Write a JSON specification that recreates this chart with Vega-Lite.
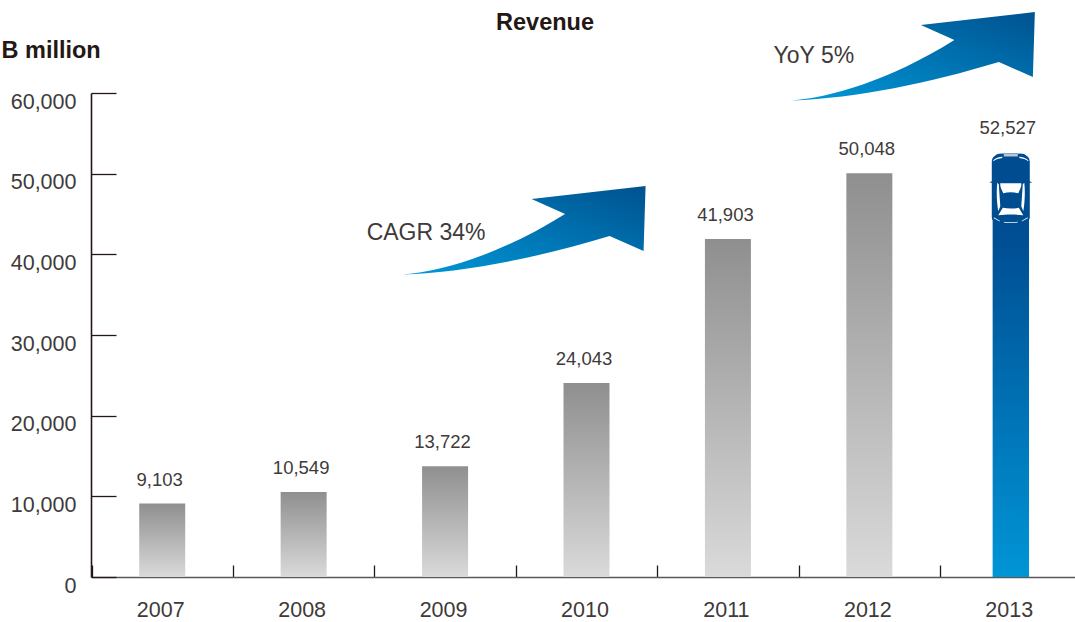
{
"$schema":"https://vega.github.io/schema/vega-lite/v6.json",
"autosize":"none",
"width":984,"height":484,
"padding":{"left":91,"top":93,"right":0,"bottom":45},
"background":"white",
"title":{"text":"Revenue","anchor":"start","frame":"group","align":"center","dx":454,"dy":41,"offset":0,"baseline":"alphabetic","font":"Liberation Sans","fontSize":23.5,"fontWeight":"bold","color":"#231815"},
"config":{"view":{"stroke":null}},
"datasets":{
"revenue":[
{"year":"2007","value":9103},{"year":"2008","value":10549},{"year":"2009","value":13722},{"year":"2010","value":24043},{"year":"2011","value":41903},{"year":"2012","value":50048},{"year":"2013","value":52527}],
"notes":[{"year":"2012","value":60000,"label":"YoY 5%"},{"year":"2009","value":40000,"label":"CAGR 34%"}]
},
"data":{"name":"revenue"},
"encoding":{
"x":{"field":"year","type":"nominal","sort":null,"scale":{"type":"band","range":[0.5,990.5],"paddingInner":0,"paddingOuter":0},
"axis":{"title":null,"labelAngle":0,"labelFont":"Liberation Sans","labelFontSize":21.5,"labelColor":"#3e3a39","labelPadding":34,"labelOffset":-2,"tickBand":"extent","tickSize":-12,"tickColor":"#231815","tickWidth":1.3,"domainColor":"#595757","domainWidth":1.6,"grid":false}},
"y":{"field":"value","type":"quantitative","scale":{"domain":[0,60000],"nice":false},
"axis":{"title":"B million","titleAngle":0,"titleAlign":"left","titleBaseline":"alphabetic","titleX":-90,"titleY":-36,"titleFont":"Liberation Sans","titleFontSize":23.5,"titleFontWeight":"bold","titleColor":"#231815","values":[0,10000,20000,30000,40000,50000,60000],"format":",d","labelFont":"Liberation Sans","labelFontSize":21.5,"labelColor":"#3e3a39","labelPadding":40,"labelOffset":9,"tickSize":-25,"tickColor":"#231815","tickWidth":1.3,"domainColor":"#231815","domainWidth":1.6,"grid":false}}
},
"layer":[
{"transform":[{"filter":"datum.year!=='2013'"}],
"mark":{"type":"bar","size":46,"fill":{"gradient":"linear","x1":0,"y1":0,"x2":0,"y2":1,"stops":[{"offset":0,"color":"#8f8f8f"},{"offset":1,"color":"#d9dad9"}]}}},
{"transform":[{"filter":"datum.year==='2013'"}],
"mark":{"type":"bar","size":37,"cornerRadiusTopLeft":9,"cornerRadiusTopRight":9,"fill":{"gradient":"linear","x1":0,"y1":0,"x2":0,"y2":1,"stops":[{"offset":0,"color":"#004c91"},{"offset":0.2,"color":"#004e93"},{"offset":1,"color":"#0095d6"}]}}},
{"transform":[{"filter":"datum.year==='2013'"}],
"mark":{"type":"point","filled":true,"opacity":1,"size":4,"fill":"#004c91","strokeWidth":0,
"shape":"M-19 9C-19 3 -15 1.5 -10 1C-5 0 5 0 10 1C15 1.5 19 3 19 9L19 28L21.5 29.5L19 29.5L19 64C19 68 15 70 0 71C-15 70 -19 68 -19 64L-19 29.5L-21.5 29.5L-19 28Z"}},
{"transform":[{"filter":"datum.year==='2013'"}],
"mark":{"type":"point","filled":true,"opacity":1,"size":4,"fill":"#ffffff","strokeWidth":0,
"shape":"M-10.5 30L10.5 30C11 33 9 37 7.5 40C3 38.5 -3 38.5 -7.5 40C-9 37 -11 33 -10.5 30ZM-13.5 29.5L-12 31L-10.5 53L-12.5 58C-14 50 -14.5 38 -13.5 29.5ZM13.5 29.5L12 31L10.5 53L12.5 58C14 50 14.5 38 13.5 29.5ZM-8 54.5C-3 55.5 3 55.5 8 54.5L12.5 62C5 61 -5 61 -12.5 62ZM-17.5 7C-15 4.5 -12 3.8 -8.5 3.5L-8.5 4.6C-12 5 -15 5.8 -17.5 8ZM17.5 7C15 4.5 12 3.8 8.5 3.5L8.5 4.6C12 5 15 5.8 17.5 8ZM-7 68.5C-2 69.2 2 69.2 7 68.5L7 69.3C2 70 -2 70 -7 69.3ZM-17 64L-11 67.5L-11 68.2L-17 65ZM17 64L11 67.5L11 68.2L17 65Z"}},
{"transform":[{"filter":"datum.year==='2013'"}],
"mark":{"type":"point","filled":true,"opacity":1,"size":4,"fill":"#b4c6d8","strokeWidth":0,
"shape":"M-7 0.6C-3 0.2 3 0.2 7 0.6L7 3.2L-7 3.2Z"}},
{"transform":[{"filter":"datum.year!=='2013'"}],
"mark":{"type":"text","dy":-24,"dx":-2.5,"font":"Liberation Sans","fontSize":18.5,"color":"#3e3a39"},
"encoding":{"text":{"field":"value","type":"quantitative","format":",d"}}},
{"transform":[{"filter":"datum.year==='2013'"}],
"mark":{"type":"text","dy":-25,"dx":-3,"font":"Liberation Sans","fontSize":18.5,"color":"#3e3a39"},
"encoding":{"text":{"field":"value","type":"quantitative","format":",d"}}},
{"data":{"name":"notes"},"transform":[{"filter":"datum.year==='2012'"}],
"mark":{"type":"point","filled":true,"opacity":1,"size":4,"strokeWidth":0,
"fill":{"gradient":"linear","x1":0,"y1":1,"x2":1,"y2":0,"stops":[{"offset":0,"color":"#0099da"},{"offset":1,"color":"#00528f"}]},
"shape":"M-78 7.5C-41 5 19.5 -12 85 -53L51.5 -68L165.5 -81L163.5 -16L129.5 -31C59.5 -10 -11 5 -78 7.5Z"}},
{"data":{"name":"notes"},"transform":[{"filter":"datum.year==='2009'"}],
"mark":{"type":"point","filled":true,"opacity":1,"size":4,"strokeWidth":0,
"fill":{"gradient":"linear","x1":0,"y1":1,"x2":1,"y2":0,"stops":[{"offset":0,"color":"#0099da"},{"offset":1,"color":"#00528f"}]},
"shape":"M-43 20.2C-5.5 17.7 54.5 0.7 120 -40.3L86.5 -55.3L200.5 -68.3L198.5 -3.3L164.5 -18.3C94.5 2.7 24.5 17.7 -43 20.2Z"}},
{"data":{"name":"notes"},"transform":[{"filter":"datum.year==='2012'"}],
"mark":{"type":"text","dx":-55.5,"dy":-37,"font":"Liberation Sans","fontSize":23,"color":"#3e3a39"},
"encoding":{"text":{"field":"label"}}},
{"data":{"name":"notes"},"transform":[{"filter":"datum.year==='2009'"}],
"mark":{"type":"text","dx":-19,"dy":-21,"font":"Liberation Sans","fontSize":23,"color":"#3e3a39"},
"encoding":{"text":{"field":"label"}}}
]
}
